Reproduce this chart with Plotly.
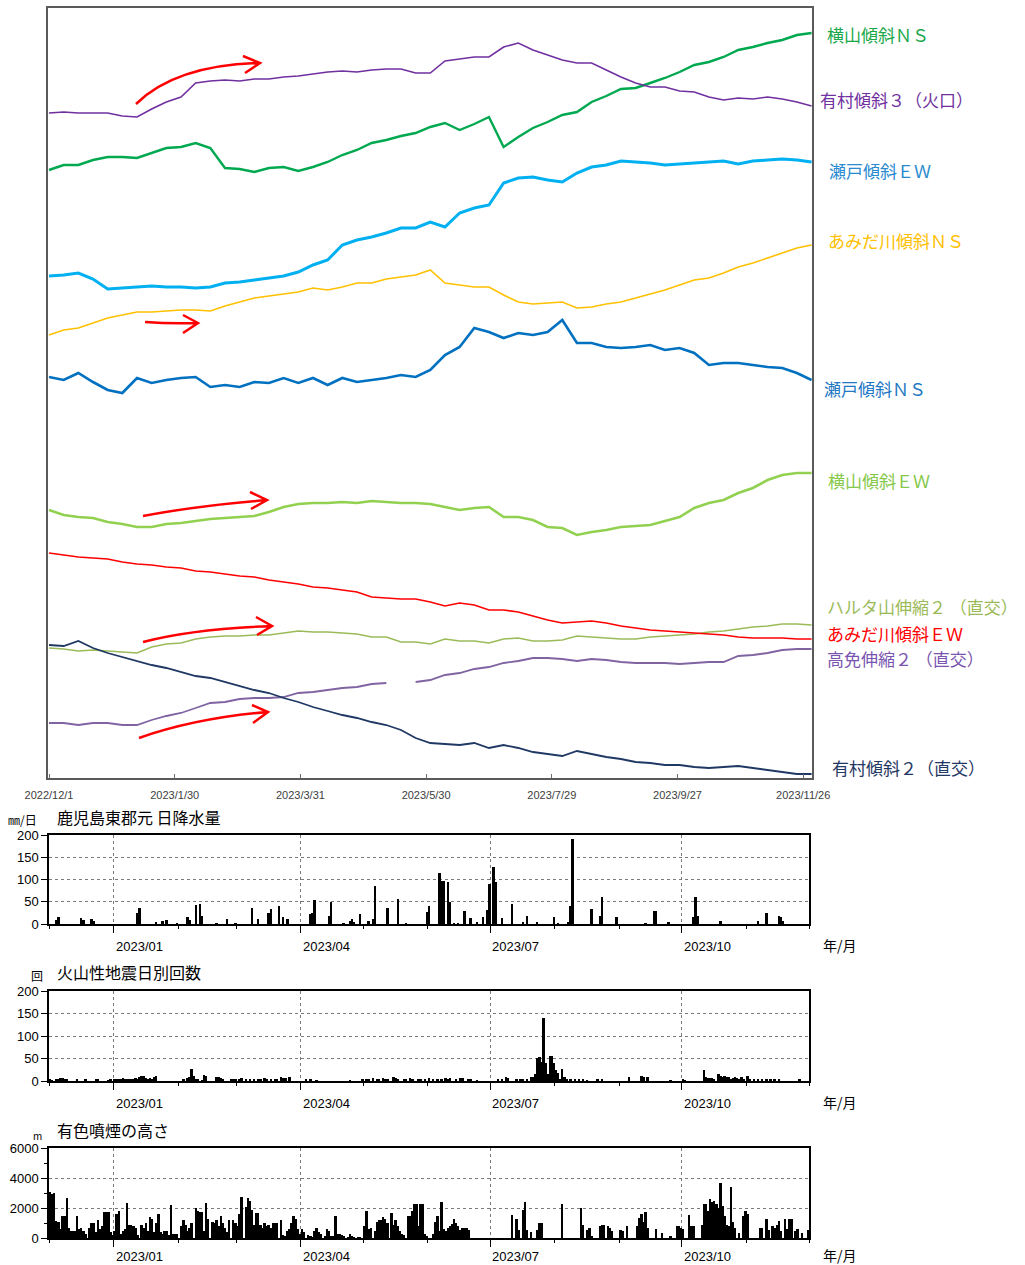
import pandas as pd
import plotly.graph_objects as go

W, H = 1025, 1265
START = pd.Timestamp("2022-12-01")
DAY = pd.Timedelta(days=1)
JP = "Noto Sans CJK JP"
NUM = "Liberation Sans"


def fx(x):
    return x / W


def fy(y):
    return 1 - y / H


# ---------------------------------------------------------------------------
# Tilt / strain records, weekly samples from 2022-12-01 (relative units, up = +)
# ---------------------------------------------------------------------------
week = [START + 7 * k * DAY for k in range(53)]

arimura3 = [665, 666, 665, 665, 665, 662, 661, 669, 676, 681, 695, 697, 698, 697, 699, 699, 701, 702,
            704, 706, 707, 706, 708, 709, 709, 705, 705, 717, 719, 721, 721, 731, 735, 728, 723, 718,
            715, 715, 708, 701, 695, 691, 691, 687, 686, 681, 678, 680, 679, 681, 679, 676, 672]
yokoyama_ns = [608, 613, 613, 618, 621, 621, 620, 625, 630, 631, 635, 630, 610, 609, 606, 610, 611, 607,
               611, 616, 623, 628, 635, 638, 642, 645, 651, 655, 648, 654, 661, 631, 641, 650, 656, 663,
               666, 676, 682, 689, 690, 695, 700, 706, 713, 716, 721, 728, 731, 735, 738, 743, 745]
seto_ew = [502, 503, 505, 499, 489, 490, 491, 492, 491, 491, 490, 491, 495, 496, 498, 500, 502, 506,
           513, 518, 533, 538, 541, 545, 550, 550, 556, 551, 565, 570, 573, 595, 600, 601, 598, 596,
           605, 611, 613, 617, 616, 615, 613, 614, 615, 616, 617, 614, 617, 618, 619, 618, 616]
amida_ns = [443, 448, 450, 455, 460, 463, 466, 466, 467, 468, 468, 467, 472, 476, 480, 482, 484, 486,
            490, 488, 491, 495, 495, 499, 501, 503, 508, 495, 493, 491, 491, 483, 476, 474, 475, 476,
            470, 471, 474, 476, 480, 484, 488, 493, 498, 500, 505, 511, 515, 520, 525, 530, 533]
seto_ns = [401, 398, 405, 396, 388, 385, 400, 395, 398, 400, 401, 391, 393, 391, 396, 395, 400, 395,
           400, 393, 400, 396, 398, 400, 403, 401, 408, 423, 431, 450, 446, 440, 445, 443, 446, 458,
           435, 435, 431, 430, 431, 433, 428, 430, 425, 413, 415, 415, 413, 411, 410, 405, 398]
yokoyama_ew = [268, 263, 261, 260, 256, 254, 251, 251, 254, 255, 257, 259, 260, 261, 262, 266, 271, 274,
               275, 275, 276, 275, 277, 276, 275, 275, 274, 271, 268, 270, 271, 261, 261, 258, 251, 250,
               243, 246, 248, 251, 252, 253, 257, 261, 270, 275, 278, 285, 290, 298, 303, 305, 305]
amida_ew = [225, 223, 221, 220, 219, 216, 214, 213, 211, 210, 207, 206, 204, 202, 201, 198, 196, 194,
            191, 190, 188, 186, 181, 180, 179, 179, 176, 172, 175, 173, 168, 168, 166, 162, 158, 155,
            156, 157, 155, 152, 150, 148, 147, 146, 145, 144, 143, 141, 140, 140, 140, 139, 139]
haruta2 = [130, 129, 127, 128, 127, 126, 125, 131, 134, 135, 139, 141, 142, 142, 143, 143, 145, 147,
           146, 146, 145, 144, 141, 141, 136, 136, 134, 139, 137, 137, 135, 139, 140, 137, 137, 138,
           142, 141, 140, 139, 139, 141, 142, 143, 144, 146, 147, 149, 151, 152, 154, 154, 153]
komen2 = [55, 55, 53, 55, 55, 53, 53, 58, 62, 65, 70, 75, 76, 79, 80, 80, 81, 85,
          86, 88, 90, 91, 94, 95, None, 96, 98, 103, 105, 109, 111, 115, 117, 120, 120, 119,
          117, 119, 118, 116, 115, 115, 115, 114, 115, 116, 116, 122, 123, 125, 128, 129, 129]
arimura2 = [133, 132, 137, 130, 125, 121, 117, 113, 110, 106, 102, 100, 96, 92, 88, 85, 80, 76,
            71, 67, 63, 60, 56, 53, 48, 40, 35, 34, 33, 35, 30, 33, 30, 26, 24, 22,
            27, 24, 21, 19, 16, 15, 13, 13, 11, 10, 11, 12, 10, 8, 6, 4, 4]

# (label, values, line colour, line width, label colour)
series = [
    ("横山傾斜ＮＳ", yokoyama_ns, "#00a84f", 2.4, "#1aa84a"),
    ("有村傾斜３（火口）", arimura3, "#7030a0", 1.6, "#7030a0"),
    ("瀬戸傾斜ＥＷ", seto_ew, "#00b0f0", 3.0, "#2a8ad0"),
    ("あみだ川傾斜ＮＳ", amida_ns, "#ffc000", 1.6, "#ffc000"),
    ("瀬戸傾斜ＮＳ", seto_ns, "#0070c0", 2.6, "#1f78c4"),
    ("横山傾斜ＥＷ", yokoyama_ew, "#92d050", 2.6, "#86c84a"),
    ("ハルタ山伸縮２ （直交）", haruta2, "#9bbb59", 1.5, "#9bbb59"),
    ("あみだ川傾斜ＥＷ", amida_ew, "#ff0000", 1.6, "#ff0000"),
    ("高免伸縮２ （直交）", komen2, "#8064a2", 1.8, "#7a55b0"),
    ("有村傾斜２（直交）", arimura2, "#1f3864", 1.8, "#1f3864"),
]
label_pos = [(825, 35), (818, 100), (827, 170), (826, 240), (822, 388),
             (826, 480), (825, 606), (825, 633), (825, 658), (830, 767)]

# ---------------------------------------------------------------------------
# Daily observations (day offset from 2022-12-01)
# ---------------------------------------------------------------------------
rain_day = [3, 4, 15, 16, 20, 21, 42, 43, 51, 54, 56, 61, 66, 67, 70, 72, 73, 80, 85, 89, 97, 100,
            105, 106, 110, 112, 114, 125, 126, 127, 134, 135, 141, 144, 145, 146, 149, 153, 155, 156,
            162, 167, 171, 181, 182, 187, 188, 189, 191, 192, 194, 196, 199, 202, 205, 208, 210, 211,
            213, 214, 217, 222, 227, 229, 234, 242, 244, 249, 250, 251, 260, 264, 265, 272, 286, 290,
            291, 297, 309, 310, 311, 322, 340, 344, 350, 351, 352]
rain_mm = [10, 16, 13, 8, 12, 6, 25, 37, 3, 7, 10, 1, 15, 10, 42, 45, 18, 2, 12, 1, 36, 12,
           25, 33, 40, 15, 12, 22, 24, 53, 18, 49, 2, 7, 11, 5, 23, 7, 12, 85,
           37, 56, 1, 28, 40, 115, 97, 97, 95, 50, 2, 2, 30, 13, 5, 16, 31, 90,
           127, 95, 13, 44, 5, 18, 5, 15, 2, 3, 40, 190, 33, 19, 61, 15, 2, 30,
           30, 5, 16, 61, 19, 7, 7, 24, 18, 15, 7]

quake_day = [0, 1, 3, 4, 5, 6, 7, 8, 13, 17, 22, 23, 28, 29,
             31, 32, 33, 34, 35, 36, 37, 38, 39, 40, 41, 42, 43, 44, 45, 46, 47, 48, 49, 50, 51,
             64, 66, 67, 68, 69, 70, 71, 73, 74, 75, 80, 81, 82, 83, 87, 88, 89,
             91, 92, 94, 96, 98, 100, 101, 103, 104, 106, 108, 109, 111, 112, 113, 115,
             123, 125, 128, 144, 150,
             152, 153, 155, 157, 158, 160, 161, 162, 165, 166, 167, 170, 171, 173, 174, 177, 178, 180,
             182, 184, 186, 188, 190, 191, 192, 195, 197, 198, 201, 202, 205,
             215, 217, 219, 220, 224, 226, 227, 229, 231, 232, 233, 234, 235, 236, 237, 238, 239, 240,
             241, 242,
             243, 244, 245, 246, 247, 248, 250, 252, 254, 256, 258, 263, 265,
             278, 284, 285, 287, 298,
             304, 305, 314, 315, 316, 317, 318, 319, 321, 322, 323, 324, 325, 326, 327, 328, 329, 330,
             331, 332, 333,
             335, 336, 338, 340, 342, 344, 346, 348, 350, 360]
quake_n = [3, 2, 4, 5, 6, 6, 5, 3, 3, 3, 5, 4, 2, 3,
           3, 4, 5, 4, 6, 3, 4, 4, 3, 5, 6, 5, 10, 11, 11, 6, 5, 7, 4, 10, 11,
           3, 6, 10, 26, 12, 5, 4, 2, 13, 12, 9, 8, 6, 4, 3, 5, 4,
           5, 6, 3, 4, 5, 3, 4, 6, 3, 4, 5, 4, 8, 6, 7, 8,
           4, 3, 2, 1, 3,
           5, 4, 6, 5, 4, 6, 5, 4, 8, 6, 5, 3, 4, 6, 4, 3, 5, 4,
           6, 3, 5, 4, 6, 5, 6, 3, 7, 6, 5, 4, 2,
           4, 3, 8, 7, 4, 5, 4, 5, 8, 10, 15, 52, 54, 43, 141, 40, 15, 56,
           56, 39,
           25, 17, 5, 27, 10, 4, 3, 4, 3, 5, 2, 3, 3,
           10, 11, 10, 9, 2,
           3, 2, 24, 8, 7, 6, 6, 5, 15, 12, 10, 11, 8, 9, 5, 6, 10, 6,
           4, 8, 5,
           12, 4, 3, 4, 3, 4, 5, 4, 3, 4]

smoke_day = [0, 1, 2, 3, 4, 5, 6, 7, 8, 9, 10, 11, 12, 13, 14, 15, 16, 17, 19, 20, 21, 22, 23, 24,
             25, 26, 27, 28, 29, 30, 31, 32, 33, 34, 35, 36, 37, 38, 39, 40, 41, 42, 44, 45, 46,
             47, 48, 49, 50, 51, 52, 53, 54, 55, 56, 57, 58, 59, 60, 61, 63, 64, 65, 66, 67, 68,
             70, 71, 72, 73, 74, 75, 76, 78, 79, 80, 81, 82, 83, 84, 85, 86, 88, 89, 90, 91, 92,
             94, 95, 96, 97, 98, 99, 100, 101, 102, 103, 104, 105, 106, 107, 108, 109, 111, 112,
             113, 114, 115, 116, 117, 118, 119, 120, 121, 122, 124, 125, 126, 127, 128, 129, 130,
             132, 133, 134, 135, 136, 137, 138, 139, 140, 141, 143, 144, 145, 146, 148, 149, 151,
             152, 153, 154, 156, 157, 158, 159, 160, 161, 162, 164, 165, 166, 167, 168, 169, 170,
             172, 173, 174, 175, 176, 177, 178, 179, 180, 181, 184, 185, 186, 187, 188, 189, 190,
             191, 192, 193, 194, 195, 196, 197, 198, 199, 200, 201, 222, 224, 225, 227, 228, 229,
             231, 234, 235, 236, 246, 255, 256, 258, 259, 260, 264, 265, 266, 268, 269, 270, 274,
             275, 277, 282, 283, 284, 285, 286, 287, 291, 294, 298, 301, 302, 303, 304, 307, 308,
             309, 313, 314, 315, 316, 317, 318, 319, 320, 321, 322, 323, 324, 325, 326, 327, 328,
             329, 331, 333, 334, 335, 341, 342, 344, 345, 347, 348, 349, 350, 351, 353, 354, 355,
             356, 358, 359, 361, 364]
smoke_m = [3100, 2950, 3000, 1150, 1100, 600, 1500, 1500, 2650, 700, 500, 500, 450, 1500, 600, 700,
           500, 300, 700, 1000, 1000, 400, 1200, 600,
           800, 1750, 1750, 1750, 400, 200, 500, 1600, 1800, 300, 500, 600, 2350, 900, 900, 800,
           700, 200, 900, 700, 1000,
           500, 1400, 1300, 400, 1000, 1600, 400, 300, 500, 500, 200, 2200, 300, 300, 300, 800,
           1200, 900, 500, 700, 1000,
           2000, 1800, 1750, 1750, 500, 2350, 1300, 1100, 1000, 1200, 800, 1500, 1000, 700, 400,
           1200, 1200, 1000, 800, 1600, 2750,
           2100, 2650, 2500, 1900, 900, 1700, 1700, 900, 700, 1000, 800, 900, 700, 1000, 1000,
           1000, 1200, 200,
           100, 500, 600, 1000, 1500, 1300, 600, 300, 600, 400, 200, 100, 50, 500, 700, 400, 300,
           100, 600, 500, 100, 100, 1500, 250, 250, 200, 150, 50, 300, 100, 50, 50, 50, 800,
           1800, 600, 700, 500, 1100, 1200, 1200, 1400, 1300, 1000, 1700, 900, 1200, 800, 500,
           300, 200,
           1500, 1500, 1800, 2300, 2300, 800, 2250, 2250, 300, 100, 300, 1100, 1500, 450, 2400,
           630, 450,
           680, 800, 950, 1300, 1000, 800, 560, 700, 680, 700, 560, 1530, 1240, 560, 1850, 2430,
           560,
           400, 560, 1000, 1000, 2250, 2030, 900, 560, 680, 100, 800, 900, 900, 800, 680, 450,
           560,
           450, 800, 800, 1350, 1580, 1080, 1750, 680, 630, 340, 150, 800, 800, 700, 630, 1530,
           800,
           800, 900, 2250, 2250, 1800, 2590, 2430, 2500, 2250, 2030, 3650, 2140, 1460, 900, 800,
           3420, 1080,
           680, 340, 1460, 1800, 1580, 700, 700, 1240, 560, 800, 700, 850, 1130, 450, 1240, 600,
           1300,
           1300, 450, 630, 340, 560]

fig = go.Figure()

# ---------------------------------------------------------------- top panel
for name, vals, color, width, _ in series:
    fig.add_trace(go.Scatter(x=week, y=vals, mode="lines", name=name,
                             line=dict(color=color, width=width),
                             connectgaps=False, showlegend=False,
                             xaxis="x", yaxis="y"))

for (name, _, _, _, lcolor), (lx, ly) in zip(series, label_pos):
    fig.add_annotation(x=fx(lx), y=fy(ly), xref="paper", yref="paper",
                       text=name, showarrow=False, xanchor="left", yanchor="middle",
                       font=dict(family=JP, size=17, color=lcolor))

top_ticks = [START + 60 * k * DAY for k in range(7)]
top_text = [f"{d.year}/{d.month}/{d.day}" for d in top_ticks]

# red trend arrows drawn over the records
arrows = [
    ((136, 104), (176, 65), (260, 63), (243, 56), (245, 73)),
    ((145, 322), (171, 324), (198, 323), (183, 315), (183, 333)),
    ((143, 516), (195, 506), (267, 500), (250, 492), (251, 509)),
    ((143, 642), (192, 629), (272, 626), (256, 617), (257, 635)),
    ((139, 738), (196, 718), (268, 712), (252, 705), (253, 723)),
]
for (x0, y0), (cx, cy), (x1, y1), (hx1, hy1), (hx2, hy2) in arrows:
    path = (f"M {fx(x0)},{fy(y0)} Q {fx(cx)},{fy(cy)} {fx(x1)},{fy(y1)} "
            f"M {fx(hx1)},{fy(hy1)} L {fx(x1)},{fy(y1)} L {fx(hx2)},{fy(hy2)}")
    fig.add_shape(type="path", path=path, xref="paper", yref="paper",
                  line=dict(color="#ff0000", width=2.5), fillcolor="rgba(0,0,0,0)")

# ---------------------------------------------------------------- bottom panels
BAR_W = 1.15 * 86400000


def day_dates(days):
    return [START + d * DAY + pd.Timedelta(hours=12) for d in days]


fig.add_trace(go.Bar(x=day_dates(rain_day), y=rain_mm, width=BAR_W,
                     marker=dict(color="black", line=dict(width=0)),
                     showlegend=False, xaxis="x2", yaxis="y2"))
fig.add_trace(go.Bar(x=day_dates(quake_day), y=quake_n, width=BAR_W,
                     marker=dict(color="black", line=dict(width=0)),
                     showlegend=False, xaxis="x3", yaxis="y3"))
fig.add_trace(go.Bar(x=day_dates(smoke_day), y=smoke_m, width=BAR_W,
                     marker=dict(color="black", line=dict(width=0)),
                     showlegend=False, xaxis="x4", yaxis="y4"))

quarters = [pd.Timestamp("2023-01-01"), pd.Timestamp("2023-04-01"),
            pd.Timestamp("2023-07-01"), pd.Timestamp("2023-10-01")]
quarter_text = ["2023/01", "2023/04", "2023/07", "2023/10"]

bottom_x = dict(
    domain=[fx(49), fx(809)],
    range=[START, START + 365 * DAY],
    type="date", automargin=False,
    tickvals=quarters, showticklabels=False,
    ticks="outside", ticklen=7, tickcolor="black", tickwidth=1,
    showgrid=True, gridcolor="#7a7a7a", griddash="dot", gridwidth=1,
    minor=dict(dtick="M1", tick0="2022-12-01", ticks="outside", ticklen=3,
               tickcolor="black", showgrid=False),
    showline=True, linecolor="black", linewidth=1.5, mirror=True,
    zeroline=False,
)


def bottom_y(top, bottom, rng, vals, minor_vals=None):
    d = dict(
        domain=[fy(bottom), fy(top)], range=rng, automargin=False,
        tickvals=vals, ticktext=[str(v) for v in vals],
        ticks="outside", ticklen=6, tickcolor="black",
        tickfont=dict(family=NUM, size=13, color="black"),
        showgrid=True, gridcolor="#7a7a7a", griddash="dot", gridwidth=1,
        showline=True, linecolor="black", linewidth=1.5, mirror=True,
        zeroline=False, fixedrange=True,
    )
    if minor_vals:
        d["minor"] = dict(tickvals=minor_vals, ticks="outside", ticklen=3,
                          tickcolor="black", showgrid=False)
    return d


panels = [
    ("x2", 835, 924, 946, "鹿児島東郡元 日降水量", 817),
    ("x3", 991, 1081, 1103, "火山性地震日別回数", 972),
    ("x4", 1148, 1238, 1256, "有色噴煙の高さ", 1130),
]
for xref, top, bottom, label_y, title, title_y in panels:
    for q, qt in zip(quarters, quarter_text):
        fig.add_annotation(x=q, xref=xref, y=fy(label_y), yref="paper", text=qt,
                           showarrow=False, xanchor="left", yanchor="middle",
                           font=dict(family=NUM, size=13, color="black"))
    fig.add_annotation(x=fx(821), y=fy(label_y - 1), xref="paper", yref="paper", text="年/月",
                       showarrow=False, xanchor="left", yanchor="middle",
                       font=dict(family=JP, size=14, color="black"))
    fig.add_annotation(x=fx(55), y=fy(title_y), xref="paper", yref="paper", text=title,
                       showarrow=False, xanchor="left", yanchor="middle",
                       font=dict(family=JP, size=16, color="black"))

fig.add_annotation(x=fx(6), y=fy(819), xref="paper", yref="paper", text="㎜/日",
                   showarrow=False, xanchor="left", yanchor="middle",
                   font=dict(family=JP, size=12, color="black"))
fig.add_annotation(x=fx(37), y=fy(975), xref="paper", yref="paper", text="回",
                   showarrow=False, xanchor="center", yanchor="middle",
                   font=dict(family=JP, size=12, color="black"))
fig.add_annotation(x=fx(37), y=fy(1135), xref="paper", yref="paper", text="m",
                   showarrow=False, xanchor="center", yanchor="middle",
                   font=dict(family=JP, size=10, color="black"))

fig.update_layout(
    width=W, height=H,
    margin=dict(l=0, r=0, t=0, b=0, autoexpand=False),
    paper_bgcolor="white", plot_bgcolor="white",
    font=dict(family=JP, color="black"),
    showlegend=False,
    bargap=0,
    xaxis=dict(
        domain=[fx(48), fx(812)], automargin=False,
        range=[START - 0.48 * DAY, START + 364.2 * DAY],
        type="date",
        tickvals=top_ticks, ticktext=top_text,
        ticks="inside", ticklen=4, tickcolor="#6e6e6e",
        tickfont=dict(family=NUM, size=11, color="#404040"),
        ticklabelstandoff=6,
        showgrid=False, zeroline=False,
        showline=True, linecolor="#5a5a5a", linewidth=1.5, mirror=True,
    ),
    yaxis=dict(
        domain=[fy(778), fy(8)], range=[0, 770], automargin=False,
        showticklabels=False, ticks="", showgrid=False, zeroline=False,
        showline=True, linecolor="#5a5a5a", linewidth=1.5, mirror=True,
    ),
    xaxis2=dict(bottom_x, anchor="y2"),
    xaxis3=dict(bottom_x, anchor="y3"),
    xaxis4=dict(bottom_x, anchor="y4"),
    yaxis2=dict(bottom_y(835, 924, [0, 200], [0, 50, 100, 150, 200]), anchor="x2"),
    yaxis3=dict(bottom_y(991, 1081, [0, 200], [0, 50, 100, 150, 200]), anchor="x3"),
    yaxis4=dict(bottom_y(1148, 1238, [0, 6000], [0, 2000, 4000, 6000], [1000, 3000, 5000]),
                anchor="x4"),
)

fig.write_html("out.html")
